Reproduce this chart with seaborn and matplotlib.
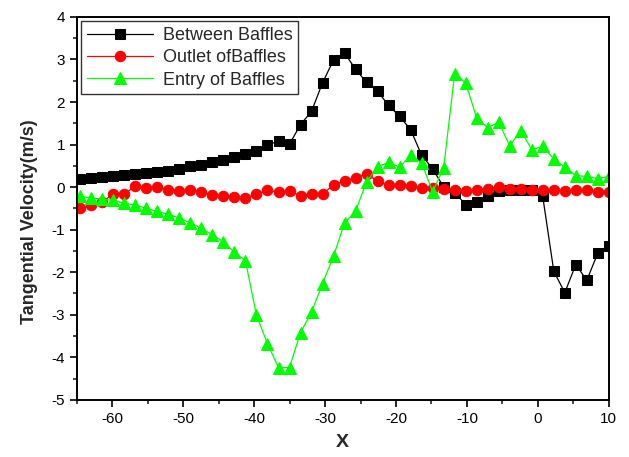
import numpy as np
import pandas as pd
import seaborn as sns
import matplotlib.pyplot as plt
from matplotlib.ticker import MultipleLocator

# x positions (shared by all three series)
x_pos = [-64.5, -62.95, -61.4, -59.84, -58.29, -56.74, -55.19, -53.64, -52.08, -50.53,
         -48.98, -47.43, -45.88, -44.32, -42.77, -41.22, -39.67, -38.12, -36.56, -35.01,
         -33.46, -31.91, -30.36, -28.8, -27.25, -25.7, -24.15, -22.6, -21.04, -19.49,
         -17.94, -16.39, -14.84, -13.28, -11.73, -10.18, -8.63, -7.08, -5.52, -3.97,
         -2.42, -0.87, 0.68, 2.24, 3.79, 5.34, 6.89, 8.44, 10.0]

between = [0.20, 0.22, 0.24, 0.26, 0.28, 0.31, 0.33, 0.36, 0.39, 0.43,
           0.49, 0.53, 0.58, 0.63, 0.71, 0.78, 0.86, 0.98, 1.09, 1.01,
           1.47, 1.78, 2.45, 2.99, 3.15, 2.77, 2.46, 2.25, 1.92, 1.66,
           1.35, 0.75, 0.43, 0.00, -0.13, -0.41, -0.36, -0.20, -0.10, -0.06,
           -0.06, -0.06, -0.22, -1.98, -2.48, -1.82, -2.19, -1.55, -1.39]

outlet = [-0.50, -0.43, -0.35, -0.16, -0.16, 0.02, -0.02, 0.01, -0.07, -0.10,
          -0.06, -0.11, -0.18, -0.21, -0.23, -0.25, -0.17, -0.07, -0.12, -0.10,
          -0.20, -0.16, -0.16, 0.05, 0.15, 0.22, 0.31, 0.14, 0.04, 0.06,
          0.02, -0.03, -0.03, -0.05, -0.07, -0.10, -0.06, -0.04, 0.00, -0.04,
          -0.04, -0.06, -0.07, -0.07, -0.09, -0.07, -0.07, -0.11, -0.12]

entry = [-0.22, -0.25, -0.29, -0.31, -0.38, -0.42, -0.50, -0.57, -0.64, -0.73,
         -0.84, -0.97, -1.12, -1.29, -1.53, -1.73, -3.01, -3.68, -4.24, -4.24,
         -3.42, -2.94, -2.27, -1.62, -0.84, -0.56, 0.12, 0.48, 0.58, 0.47,
         0.75, 0.57, -0.11, 0.46, 2.67, 2.45, 1.62, 1.40, 1.52, 0.97,
         1.33, 0.88, 0.96, 0.66, 0.47, 0.27, 0.25, 0.20, 0.25]

sns.set_style('ticks')
plt.rcParams['font.family'] = ['Liberation Sans', 'DejaVu Sans']
plt.rcParams['axes.unicode_minus'] = False

fig = plt.figure(figsize=(6.29, 4.57), dpi=100)
ax = fig.add_axes([0.122, 0.125, 0.846, 0.838])

sns.lineplot(x=x_pos, y=between, ax=ax, color='black', marker='s', markersize=6.5,
             markeredgecolor='black', linewidth=0.9, label='Between Baffles', estimator=None)
sns.lineplot(x=x_pos, y=outlet, ax=ax, color='#ff0000', marker='o', markersize=7.5,
             markeredgecolor='#ff0000', linewidth=0.9, label='Outlet ofBaffles', estimator=None)
sns.lineplot(x=x_pos, y=entry, ax=ax, color='#00ff00', marker='^', markersize=8.5,
             markeredgecolor='#00ff00', linewidth=0.9, label='Entry of Baffles', estimator=None)

ax.set_xlim(-65, 10)
ax.set_ylim(-5, 4)
ax.xaxis.set_major_locator(MultipleLocator(10))
ax.xaxis.set_minor_locator(MultipleLocator(5))
ax.yaxis.set_major_locator(MultipleLocator(1))
ax.yaxis.set_minor_locator(MultipleLocator(0.5))
ax.tick_params(which='major', direction='out', length=5, width=1.2, labelsize=11, colors='black')
ax.tick_params(which='minor', direction='out', length=3, width=1.2)
ax.tick_params(top=False, right=False)
for s in ax.spines.values():
    s.set_visible(True)
    s.set_linewidth(1.4)
    s.set_color('black')

ax.set_xlabel('X', fontsize=14, fontweight='bold', labelpad=6)
ax.set_ylabel('Tangential Velocity(m/s)', fontsize=13, fontweight='bold')
ax.yaxis.set_label_coords(-0.072, 0.465)

leg = ax.legend(loc='upper left', fontsize=13, frameon=True, fancybox=False,
                handlelength=3.7, borderpad=0.3, labelspacing=0.3,
                handletextpad=0.5, borderaxespad=0.25)
leg.get_frame().set_edgecolor('black')
leg.get_frame().set_linewidth(1.0)

plt.savefig('out.png', dpi=100)
